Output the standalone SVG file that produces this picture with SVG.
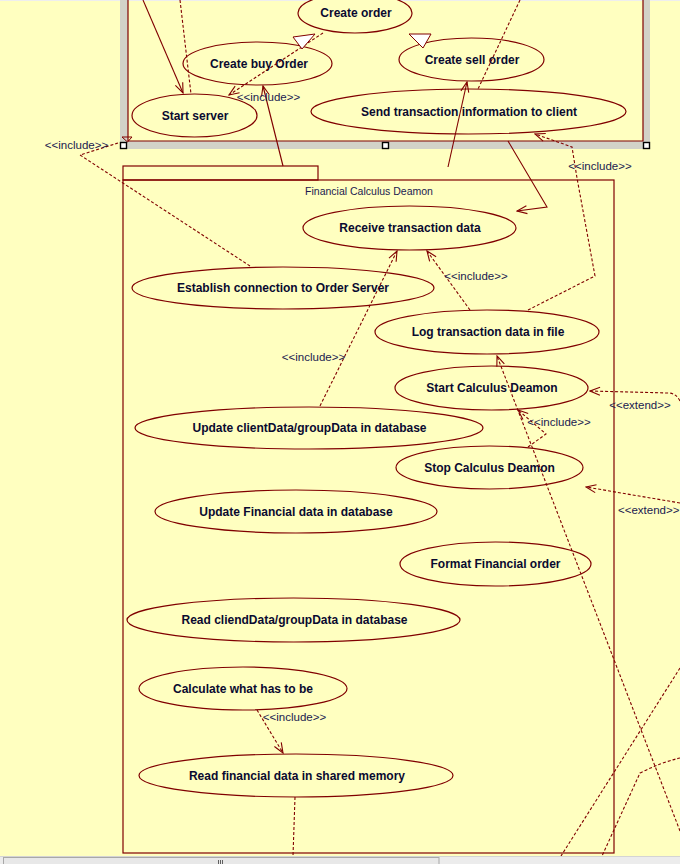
<svg xmlns="http://www.w3.org/2000/svg" width="680" height="864" viewBox="0 0 680 864">
<defs>
<style>
.bg{fill:#FFFFC0}
.uc{fill:#FFFFC0;stroke:#800000;stroke-width:1.2}
.lbl{font-family:"Liberation Sans",Arial,sans-serif;font-weight:bold;font-size:12px;fill:#0a0a30;text-anchor:middle}
.st{font-family:"Liberation Sans",Arial,sans-serif;font-size:11.5px;fill:#1a1a50;text-anchor:middle}
.pt{font-family:"Liberation Sans",Arial,sans-serif;font-size:10.5px;fill:#1a1a50;text-anchor:middle}
.pk{fill:none;stroke:#800000;stroke-width:1.2}
.sol{fill:none;stroke:#800000;stroke-width:1.1}
.dsh{fill:none;stroke:#800000;stroke-width:1.1;stroke-dasharray:3 2}
.gen{fill:#ffffff;stroke:#800000;stroke-width:1}
.hd{fill:#ffffff;stroke:#000000;stroke-width:1.4}
.hatch{fill:#d2d2c8}
</style>
<marker id="ah" viewBox="-11 -5 12 10" refX="0" refY="0" markerWidth="12" markerHeight="10" markerUnits="userSpaceOnUse" orient="auto">
<path d="M-10,-4 L0,0 L-10,4" fill="none" stroke="#800000" stroke-width="1.1"/>
</marker>
</defs>
<rect class="bg" x="0" y="0" width="680" height="864"/>
<rect x="0" y="0" width="680" height="1" fill="#eeeeee"/>

<g id="pkg-top">
<rect class="hatch" x="120" y="0" width="8" height="149"/>
<rect class="hatch" x="643" y="0" width="7" height="149"/>
<rect class="hatch" x="120" y="141" width="530" height="8"/>
<path class="pk" d="M128,0 V141 H643 V0"/>
</g>

<g id="pkg-financial">
<rect class="pk" x="123" y="166" width="195" height="14"/>
<rect class="pk" x="123" y="180" width="491" height="673"/>
<text class="pt" x="369" y="195">Financial Calculus Deamon</text>
</g>

<g id="n-create-order"><ellipse class="uc" cx="355" cy="13" rx="57" ry="20"/><text class="lbl" x="356" y="17">Create order</text></g>
<g id="n-create-buy"><ellipse class="uc" cx="257.5" cy="63.5" rx="74.5" ry="21.5"/><text class="lbl" x="259" y="68">Create buy Order</text></g>
<g id="n-start-server"><ellipse class="uc" cx="194.5" cy="115.5" rx="62.5" ry="21.5"/><text class="lbl" x="195" y="120">Start server</text></g>
<g id="n-create-sell"><ellipse class="uc" cx="471.5" cy="59.5" rx="72.5" ry="21.5"/><text class="lbl" x="472" y="64">Create sell order</text></g>
<g id="n-send-info"><ellipse class="uc" cx="468.5" cy="111.5" rx="157.5" ry="22.5"/><text class="lbl" x="469" y="116">Send transaction information to client</text></g>

<g id="n-receive"><ellipse class="uc" cx="409.5" cy="228" rx="106.5" ry="22"/><text class="lbl" x="410" y="232">Receive transaction data</text></g>
<g id="n-establish"><ellipse class="uc" cx="283" cy="288" rx="151" ry="21"/><text class="lbl" x="283" y="292">Establish connection to Order Server</text></g>
<g id="n-log"><ellipse class="uc" cx="487" cy="332" rx="112" ry="22"/><text class="lbl" x="488" y="336">Log transaction data in file</text></g>
<g id="n-start-calc"><ellipse class="uc" cx="491.5" cy="388" rx="96.5" ry="22"/><text class="lbl" x="492" y="392">Start Calculus Deamon</text></g>
<g id="n-update-client"><ellipse class="uc" cx="309" cy="428" rx="174" ry="21"/><text class="lbl" x="309.5" y="432">Update clientData/groupData in database</text></g>
<g id="n-stop-calc"><ellipse class="uc" cx="489.5" cy="467.5" rx="93.5" ry="21.5"/><text class="lbl" x="489.5" y="472">Stop Calculus Deamon</text></g>
<g id="n-update-fin"><ellipse class="uc" cx="296" cy="511.5" rx="141" ry="21.5"/><text class="lbl" x="296" y="516">Update Financial data in database</text></g>
<g id="n-format"><ellipse class="uc" cx="495.5" cy="564" rx="95.5" ry="22"/><text class="lbl" x="495.5" y="568">Format Financial order</text></g>
<g id="n-read-client"><ellipse class="uc" cx="293.5" cy="620" rx="166.5" ry="22"/><text class="lbl" x="294.5" y="624">Read cliendData/groupData in database</text></g>
<g id="n-calculate"><ellipse class="uc" cx="243" cy="688.5" rx="104" ry="21.5"/><text class="lbl" x="243" y="693">Calculate what has to be</text></g>
<g id="n-read-fin"><ellipse class="uc" cx="296" cy="775.5" rx="157" ry="21.5"/><text class="lbl" x="297" y="780">Read financial data in shared memory</text></g>

<g id="connectors">
<path class="sol" d="M143,0 L183,93" marker-end="url(#ah)"/>
<path class="dsh" d="M180,0 L191,94"/>
<path class="dsh" d="M323,33 L229,95" marker-end="url(#ah)"/>
<polygon class="gen" points="293,37 315,34 302,49"/>
<polygon class="gen" points="409,34 431,34 423,48"/>
<path class="sol" d="M283,166 L263,86" marker-end="url(#ah)"/>
<path class="sol" d="M448,167 L467,82" marker-end="url(#ah)"/>
<path class="dsh" d="M520,0 L478,89"/>
<path class="sol" d="M508,141 L547,207 L517,211" marker-end="url(#ah)"/>
<path class="dsh" d="M528,310 L595,276 L577,178 L572,147 L535,134" marker-end="url(#ah)"/>
<path class="dsh" d="M250,266 L80,155 L118,143"/>
<path d="M122,137 L132,137 L127.5,142 Z" fill="none" stroke="#800000" stroke-width="1"/>
<path class="dsh" d="M320,406 L397,251" marker-end="url(#ah)"/>
<path class="dsh" d="M470,310 L427,251" marker-end="url(#ah)"/>
<path class="dsh" d="M528,447 L546,434 L518,410" marker-end="url(#ah)"/>
<path class="dsh" d="M680,831 L497,356" marker-end="url(#ah)"/>
<path class="dsh" d="M680,401 Q676,393 668,393 L590,391" marker-end="url(#ah)"/>
<path class="dsh" d="M680,503 L586,487" marker-end="url(#ah)"/>
<path class="dsh" d="M680,668 L561,856"/>
<path class="dsh" d="M680,758 Q662,762 640,773 L602,856"/>
<path class="dsh" d="M295,797 L293,856"/>
<path class="dsh" d="M257,710 L283,753" marker-end="url(#ah)"/>
<text class="st" x="268.5" y="101">&lt;&lt;include&gt;&gt;</text>
<text class="st" x="76.5" y="149">&lt;&lt;include&gt;&gt;</text>
<text class="st" x="600" y="170">&lt;&lt;include&gt;&gt;</text>
<text class="st" x="313.5" y="361">&lt;&lt;include&gt;&gt;</text>
<text class="st" x="476" y="280">&lt;&lt;include&gt;&gt;</text>
<text class="st" x="559" y="426">&lt;&lt;include&gt;&gt;</text>
<text class="st" x="640" y="409">&lt;&lt;extend&gt;&gt;</text>
<text class="st" x="618" y="514" style="text-anchor:start">&lt;&lt;extend&gt;&gt;</text>
<text class="st" x="294.5" y="721">&lt;&lt;include&gt;&gt;</text>
</g>

<g id="handles">
<rect class="hd" x="120.5" y="142.5" width="6" height="6"/>
<rect class="hd" x="382.5" y="142.5" width="6" height="6"/>
<rect class="hd" x="643.5" y="142.5" width="6" height="6"/>
</g>

<g id="scrollbar">
<rect x="0" y="856" width="680" height="8" fill="#ececec"/>
<rect x="0" y="856" width="680" height="1" fill="#d4d4d4"/>
<rect x="3.5" y="857.5" width="435.5" height="8" fill="#e8e8e8" stroke="#a8a8a8" stroke-width="1"/>
<path d="M218.5,860 V864 M220.5,860 V864 M222.5,860 V864" stroke="#606060" stroke-width="1"/>
</g>
</svg>
